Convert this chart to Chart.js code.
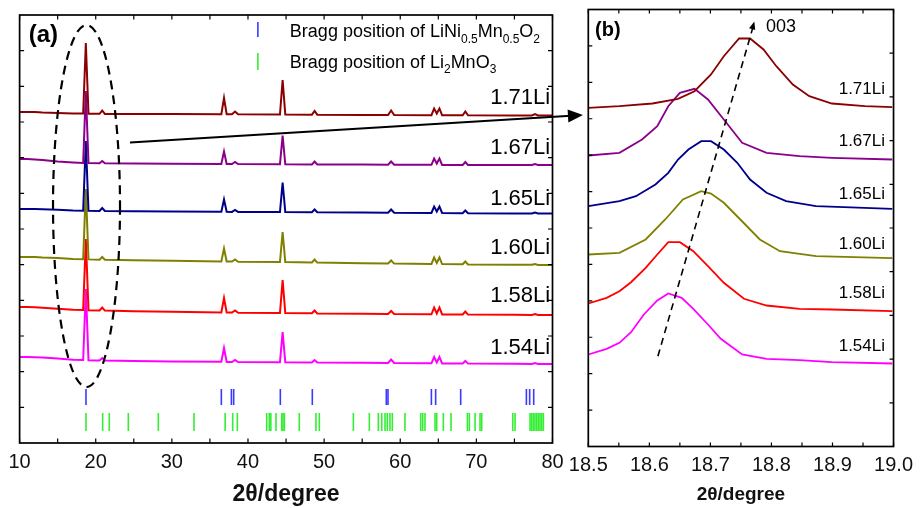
<!DOCTYPE html>
<html>
<head>
<meta charset="utf-8">
<script src="https://cdn.jsdelivr.net/npm/chart.js@4.4.0/dist/chart.umd.min.js"></script>
<style>
  html, body { margin: 0; padding: 0; background: #fff; }
  #wrap { position: relative; width: 920px; height: 508px; overflow: hidden; }
  #chartA { position: absolute; left: 0; top: 0; }
  #chartB { position: absolute; left: 560px; top: 0; }
</style>
</head>
<body>
<div id="wrap">
  <canvas id="chartA" width="600" height="508" style="width:600px;height:508px"></canvas>
  <canvas id="chartB" width="360" height="508" style="width:360px;height:508px"></canvas>
</div>
<script>
const FONT = '"Liberation Sans", Arial, sans-serif';

const sampleNames = ['1.71Li', '1.67Li', '1.65Li', '1.60Li', '1.58Li', '1.54Li'];
const sampleColors = ['#8b0000', '#8b008b', '#00008b', '#808000', '#ff0000', '#ff00ff'];

// panel (a): full pattern, offset intensities (a.u.)
const twoTheta = [10, 11, 12, 13, 15, 17, 18.35, 18.7, 19.05, 20.5, 20.85, 21.2, 25, 30,
  36.5, 36.85, 37.2, 37.9, 38.3, 38.7, 44.2, 44.55, 44.9, 48.4, 48.75, 49.1, 55,
  58.4, 58.8, 59.2, 64.1, 64.45, 64.8, 65.15, 65.5, 68.2, 68.55, 68.9, 75, 77.3, 77.7, 78.1, 80];
const xrd171 = [331, 331, 331, 330.5, 330, 329.5, 329.5, 400, 329.3, 329.2, 332.5, 329.1, 329, 329,
  328.8, 345, 328.8, 328.7, 331.5, 328.7, 328.5, 363, 328.5, 328.3, 332, 328.3, 328,
  328, 332.5, 328, 327.8, 334.5, 329.5, 334.5, 327.8, 327.7, 331.5, 327.7, 327.5, 327.5, 329, 327.5, 327.5];
const xrd167 = [284, 284, 283.5, 283, 281.5, 280.5, 280, 352, 280, 279.8, 282, 279.7, 279.5, 279.3,
  279, 291.5, 279, 279, 281, 278.9, 278.8, 307.5, 278.7, 278.6, 281.5, 278.5, 278.4,
  278.3, 281.5, 278.3, 278.2, 284.5, 279.5, 284.5, 278.1, 278, 281, 278, 278, 278, 279, 278, 278];
const xrd165 = [234, 234, 234, 233.8, 233.2, 232.5, 232.3, 302, 232.2, 232, 235, 232, 231.8, 231.5,
  231.2, 243.5, 231.2, 231.1, 233, 231.1, 231, 260.5, 231, 230.8, 233.5, 230.8, 230.5,
  230.3, 233.5, 230.3, 230, 236.5, 231.5, 236.5, 230, 229.8, 232.5, 229.8, 229.6, 229.5, 230.5, 229.5, 229.5];
const xrd160 = [186, 186, 186, 185.5, 185, 184, 183.8, 254, 183.6, 183.3, 186, 183.2, 182.8, 182.3,
  181.6, 194.5, 181.5, 181.4, 183.5, 181.3, 181, 211, 180.9, 180.5, 183.5, 180.4, 179.8,
  179.5, 182.5, 179.4, 179, 185.5, 180, 185.5, 178.9, 178.7, 181.5, 178.6, 178.3, 178.2, 179, 178.1, 178];
const xrd158 = [136, 136, 135.8, 135.3, 134.3, 133.2, 133, 204, 132.8, 132.5, 135.5, 132.4, 131.8, 131.2,
  130.6, 145, 130.5, 130.4, 132.5, 130.3, 130, 163, 129.9, 129.7, 132.5, 129.6, 129.3,
  129.1, 132, 129, 128.7, 135.5, 129.5, 135.5, 128.6, 128.5, 131.5, 128.4, 128.2, 128.1, 129, 128, 128];
const xrd154 = [86, 86, 85.8, 85.5, 84.5, 83.2, 83, 154, 82.8, 82.6, 85, 82.5, 82, 81.6,
  81.2, 95, 81.1, 81, 83, 81, 80.8, 111, 80.7, 80.5, 83, 80.5, 80.2,
  80, 83.5, 80, 79.7, 86, 80.5, 86, 79.6, 79.5, 82, 79.4, 79.2, 79.1, 80, 79, 79];
const labelLevelA = [345, 295, 244, 195.5, 147.5, 95.5];

// Bragg positions (2theta)
const braggLNMO = [18.72, 36.5, 37.82, 38.12, 44.25, 48.45, 58.17, 58.39, 64.09, 64.65, 67.94, 76.57, 77.0, 77.53];
const braggLi2MnO3 = [18.72, 20.91, 21.78, 24.28, 28.22, 32.91, 37.0, 37.99, 38.6, 42.46, 42.8, 43.0, 43.68,
  44.43, 44.6, 44.78, 46.74, 48.93, 49.37, 53.84, 55.94, 57.12, 57.57, 58.0, 58.3, 58.65, 58.96, 60.62,
  62.69, 62.95, 63.25, 64.57, 64.79, 65.66, 66.67, 68.82, 69.08, 69.83, 70.48, 70.7, 74.78, 75.08,
  77.05, 77.27, 77.48, 77.7, 77.93, 78.14, 78.36, 78.58, 78.8];
const braggRowLNMO = 46;
const braggRowLi2MnO3 = 21;

// panel (b): 003 peak
const b171x = [18.5, 18.551, 18.605, 18.647, 18.674, 18.701, 18.722, 18.747, 18.765, 18.787, 18.808, 18.835, 18.862, 18.899, 18.953, 18.998];
const b171y = [338.7, 340.3, 343, 347.7, 355.3, 372, 390.3, 408, 408, 397, 380.3, 362, 350.3, 343, 340.3, 339.3];
const b167x = [18.5, 18.551, 18.588, 18.613, 18.631, 18.65, 18.674, 18.696, 18.722, 18.752, 18.792, 18.846, 18.899, 18.998];
const b167y = [291, 293.7, 307, 320.3, 340.3, 353.7, 357.7, 347, 327, 303.7, 293.7, 290.3, 288.7, 287];
const b165x = [18.5, 18.551, 18.578, 18.61, 18.631, 18.647, 18.664, 18.685, 18.701, 18.722, 18.744, 18.765, 18.792, 18.824, 18.873, 18.998];
const b165y = [240.3, 245.3, 250.3, 262, 273.7, 287, 297, 305.3, 305.3, 297, 283.7, 267, 253.7, 245.3, 240.3, 237.7];
const b160x = [18.5, 18.551, 18.594, 18.626, 18.655, 18.685, 18.701, 18.722, 18.749, 18.781, 18.814, 18.873, 18.998];
const b160y = [192, 193.7, 207, 227, 247, 255.3, 253, 243.7, 227, 207, 195.3, 190.3, 188.3];
const b158x = [18.5, 18.53, 18.551, 18.57, 18.594, 18.613, 18.631, 18.65, 18.672, 18.696, 18.722, 18.755, 18.792, 18.846, 18.899, 18.998];
const b158y = [143, 148.7, 155.3, 164.3, 178.7, 192, 204.3, 204.3, 195.3, 180.3, 163.7, 147.7, 141, 137.7, 137, 135.3];
const b154x = [18.5, 18.53, 18.551, 18.57, 18.591, 18.613, 18.631, 18.653, 18.672, 18.696, 18.717, 18.752, 18.792, 18.846, 18.899, 18.998];
const b154y = [92, 97.7, 103.7, 114.3, 132, 146, 153, 148.7, 137.7, 122, 107.7, 92, 87.7, 86.3, 84.3, 83];
const labelLevelB = [357, 305, 252, 202, 153.5, 100];

const zip = (xs, ys) => xs.map((x, i) => ({ x: x, y: ys[i] }));

// frame box with inward ticks on all four sides
const frameTicks = {
  id: 'frameTicks',
  afterDraw(chart, args, opts) {
    const { ctx, chartArea: a, scales: { x, y } } = chart;
    ctx.save();
    ctx.strokeStyle = '#000';
    ctx.lineWidth = 1.2;
    ctx.beginPath();
    x.ticks.forEach(t => {
      const p = x.getPixelForValue(t.value);
      ctx.moveTo(p, a.bottom); ctx.lineTo(p, a.bottom - opts.len);
      ctx.moveTo(p, a.top); ctx.lineTo(p, a.top + opts.len);
    });
    for (let i = 1; i < opts.leftCount; i++) {
      const p = y.getPixelForValue(y.max * i / opts.leftCount);
      ctx.moveTo(a.left, p); ctx.lineTo(a.left + opts.len, p);
    }
    for (let i = 1; i < opts.rightCount; i++) {
      const p = y.getPixelForValue(y.max * i / opts.rightCount);
      ctx.moveTo(a.right, p); ctx.lineTo(a.right - opts.len, p);
    }
    ctx.stroke();
    ctx.lineWidth = 1.7;
    ctx.strokeRect(a.left, a.top, a.right - a.left, a.bottom - a.top);
    ctx.restore();
  }
};

function arrowHead(ctx, x0, y0, x1, y1, len, half) {
  const ang = Math.atan2(y1 - y0, x1 - x0);
  ctx.beginPath();
  ctx.moveTo(x1, y1);
  ctx.lineTo(x1 - len * Math.cos(ang) + half * Math.sin(ang), y1 - len * Math.sin(ang) - half * Math.cos(ang));
  ctx.lineTo(x1 - len * Math.cos(ang) - half * Math.sin(ang), y1 - len * Math.sin(ang) + half * Math.cos(ang));
  ctx.closePath();
  ctx.fill();
}

function richText(ctx, parts, x, y, size, subSize) {
  let cx = x;
  parts.forEach(([t, sub]) => {
    ctx.font = (sub ? subSize : size) + 'px ' + FONT;
    ctx.fillText(t, cx, sub ? y + 5.5 : y);
    cx += ctx.measureText(t).width;
  });
}

const annotateA = {
  id: 'annotateA',
  afterDatasetsDraw(chart) {
    const { ctx, scales: { x, y } } = chart;
    const px = v => x.getPixelForValue(v), py = v => y.getPixelForValue(v);
    ctx.save();
    ctx.fillStyle = '#000';
    ctx.textBaseline = 'middle';
    ctx.font = 'bold 24px ' + FONT;
    ctx.fillText('(a)', px(11.2), py(408));

    ctx.font = '22px ' + FONT;
    ctx.textAlign = 'right';
    sampleNames.forEach((n, i) => ctx.fillText(n, px(79.7), py(labelLevelA[i])));

    // legend
    ctx.textAlign = 'left';
    ctx.textBaseline = 'alphabetic';
    ctx.lineWidth = 1.6;
    ctx.strokeStyle = '#3a3aff';
    ctx.beginPath(); ctx.moveTo(px(41.3), py(421)); ctx.lineTo(px(41.3), py(406)); ctx.stroke();
    ctx.strokeStyle = '#33ee33';
    ctx.beginPath(); ctx.moveTo(px(41.3), py(390)); ctx.lineTo(px(41.3), py(373)); ctx.stroke();
    richText(ctx, [['Bragg position of LiNi', 0], ['0.5', 1], ['Mn', 0], ['0.5', 1], ['O', 0], ['2', 1]], px(45.5), py(406), 18, 12);
    richText(ctx, [['Bragg position of Li', 0], ['2', 1], ['MnO', 0], ['3', 1]], px(45.5), py(375.5), 18, 12);

    // dashed ellipse around 003
    ctx.strokeStyle = '#000';
    ctx.lineWidth = 2.2;
    ctx.setLineDash([9, 6]);
    ctx.beginPath();
    ctx.ellipse(px(18.79), py(237), px(23.19) - px(18.79), py(56) - py(237), 0, 0, Math.PI * 2);
    ctx.stroke();

    // arrow to panel (b)
    ctx.setLineDash([]);
    const x0 = px(24.5), y0 = py(300.5), x1 = px(84.0), y1 = py(328);
    ctx.lineWidth = 2;
    ctx.beginPath(); ctx.moveTo(x0, y0); ctx.lineTo(x1 - 12, y1 + 0.7); ctx.stroke();
    arrowHead(ctx, x0, y0, x1, y1, 15, 6.5);
    ctx.restore();
  }
};

const annotateB = {
  id: 'annotateB',
  afterDatasetsDraw(chart) {
    const { ctx, scales: { x, y } } = chart;
    const px = v => x.getPixelForValue(v), py = v => y.getPixelForValue(v);
    ctx.save();
    ctx.fillStyle = '#000';
    ctx.textBaseline = 'middle';
    ctx.font = 'bold 20px ' + FONT;
    ctx.fillText('(b)', px(18.511), py(416.5));
    ctx.font = '18px ' + FONT;
    ctx.fillText('003', px(18.791), py(419.5));

    ctx.font = '17px ' + FONT;
    ctx.textAlign = 'right';
    sampleNames.forEach((n, i) => ctx.fillText(n, px(18.986), py(labelLevelB[i])));

    // dashed trend of the 003 peak
    const x0 = px(18.614), y0 = py(90.3), x1 = px(18.772), y1 = py(425);
    ctx.strokeStyle = '#000';
    ctx.lineWidth = 1.6;
    ctx.setLineDash([7, 5]);
    ctx.beginPath(); ctx.moveTo(x0, y0); ctx.lineTo(x1 - 1.2, y1 + 5); ctx.stroke();
    ctx.setLineDash([]);
    arrowHead(ctx, x0, y0, x1, y1, 8, 3.2);
    ctx.restore();
  }
};

const xrdSeries = [xrd171, xrd167, xrd165, xrd160, xrd158, xrd154];
const dsA = xrdSeries.map((ys, i) => ({
  label: sampleNames[i],
  data: zip(twoTheta, ys),
  borderColor: sampleColors[i],
  borderWidth: 2,
  pointRadius: 0,
  tension: 0
}));
dsA.push({
  label: 'LiNi0.5Mn0.5O2',
  data: braggLNMO.map(v => ({ x: v, y: braggRowLNMO })),
  showLine: false,
  pointStyle: 'line',
  pointRotation: 90,
  pointRadius: 8,
  pointBorderWidth: 1.6,
  pointBorderColor: '#3a3aff'
});
dsA.push({
  label: 'Li2MnO3',
  data: braggLi2MnO3.map(v => ({ x: v, y: braggRowLi2MnO3 })),
  showLine: false,
  pointStyle: 'line',
  pointRotation: 90,
  pointRadius: 9,
  pointBorderWidth: 1.6,
  pointBorderColor: '#33ee33'
});

new Chart(document.getElementById('chartA'), {
  type: 'line',
  data: { datasets: dsA },
  options: {
    responsive: false,
    animation: false,
    events: [],
    layout: { padding: { top: 15, right: 47.5, left: 0, bottom: 0 } },
    plugins: {
      legend: { display: false },
      tooltip: { enabled: false },
      frameTicks: { len: 4.5, leftCount: 12, rightCount: 12 }
    },
    scales: {
      x: {
        type: 'linear', min: 10, max: 80,
        ticks: {
          stepSize: 5, padding: 7, autoSkip: false, maxRotation: 0, color: '#111',
          font: { family: FONT, size: 20 },
          callback: v => (v % 10 === 0 ? v : '')
        },
        grid: { display: false, drawTicks: false },
        border: { display: false },
        title: { display: true, text: '2θ/degree', color: '#111', font: { family: FONT, size: 23, weight: 'bold' }, padding: { top: 0, bottom: 0 } },
        afterFit: s => { s.height = 65; }
      },
      y: {
        min: 0, max: 428,
        ticks: { display: false },
        grid: { display: false, drawTicks: false },
        border: { display: false },
        afterFit: s => { s.width = 19.6; }
      }
    }
  },
  plugins: [frameTicks, annotateA]
});

const peakX = [b171x, b167x, b165x, b160x, b158x, b154x];
const peakY = [b171y, b167y, b165y, b160y, b158y, b154y];
const dsB = peakX.map((xs, i) => ({
  label: sampleNames[i],
  data: zip(xs, peakY[i]),
  borderColor: sampleColors[i],
  borderWidth: 1.8,
  pointRadius: 0,
  tension: 0
}));

new Chart(document.getElementById('chartB'), {
  type: 'line',
  data: { datasets: dsB },
  options: {
    responsive: false,
    animation: false,
    events: [],
    layout: { padding: { top: 9.5, right: 21, left: 0, bottom: 0 } },
    plugins: {
      legend: { display: false },
      tooltip: { enabled: false },
      frameTicks: { len: 4, leftCount: 12, rightCount: 10 }
    },
    scales: {
      x: {
        type: 'linear', min: 18.5, max: 19.0,
        ticks: {
          stepSize: 0.05, padding: 7, autoSkip: false, maxRotation: 0, color: '#111',
          font: { family: FONT, size: 20 },
          callback: v => (Math.abs(v * 10 - Math.round(v * 10)) < 1e-6 ? v.toFixed(1) : '')
        },
        grid: { display: false, drawTicks: false },
        border: { display: false },
        title: { display: true, text: '2θ/degree', color: '#111', font: { family: FONT, size: 19, weight: 'bold' }, padding: { top: 0, bottom: 2 } },
        afterFit: s => { s.height = 61.5; }
      },
      y: {
        min: 0, max: 437,
        ticks: { display: false },
        grid: { display: false, drawTicks: false },
        border: { display: false },
        afterFit: s => { s.width = 28.3; }
      }
    }
  },
  plugins: [frameTicks, annotateB]
});
</script>
</body>
</html>
